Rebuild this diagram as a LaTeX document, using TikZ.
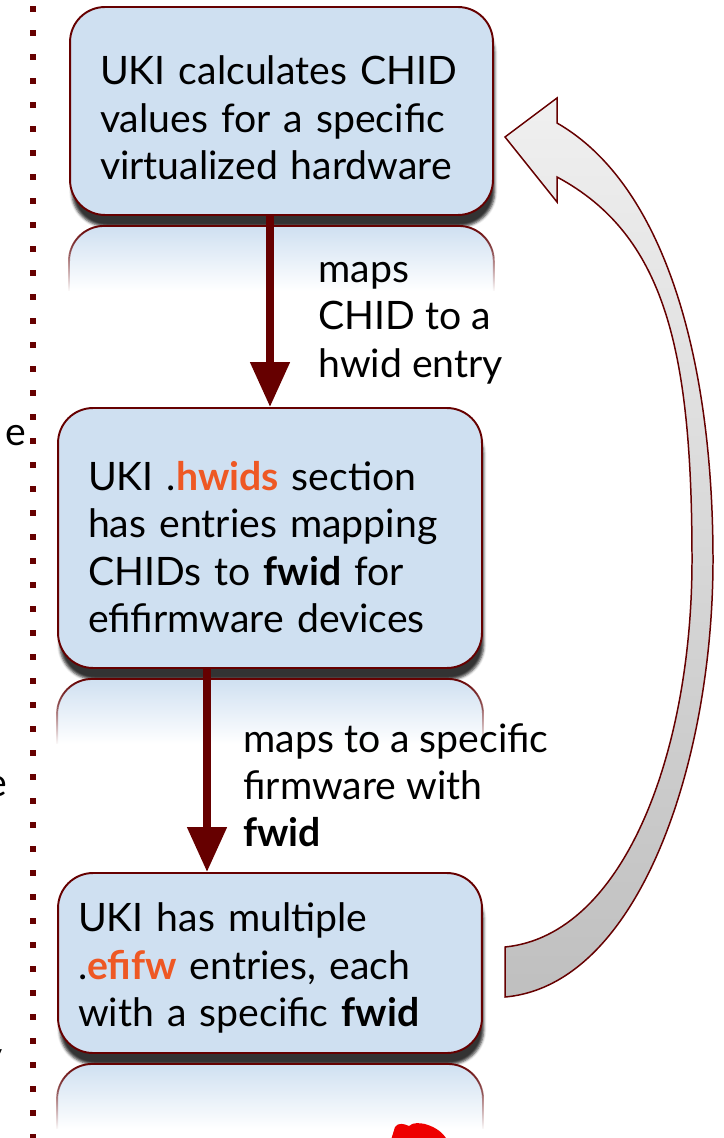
\documentclass[tikz,border=0pt]{standalone}
\usepackage{fontspec}
\setmainfont{Lato}
\usetikzlibrary{arrows.meta, shadows.blur, fadings, positioning}

\definecolor{wine}{RGB}{102,0,0}
\definecolor{boxblue}{RGB}{207,224,241}
\definecolor{hlorange}{RGB}{238,88,36}
\definecolor{rhred}{RGB}{238,0,0}

\tikzfading[name=mirrorfade, top color=transparent!0, bottom color=transparent!100]

\tikzset{
  card/.style={draw=wine, line width=1.1pt, fill=boxblue, rounded corners=0.7cm,
    align=left, inner ysep=0pt, font=\fontsize{22.3}{27.1}\selectfont,
    blur shadow={shadow xshift=1pt, shadow yshift=-6.5pt, shadow blur radius=1.5pt, shadow opacity=80}},
  flow/.style={wine, line width=4.5pt, -{Triangle[length=0.9cm, width=0.76cm]}},
  note/.style={align=left, inner sep=0pt, font=\fontsize{22.3}{26.9}\selectfont},
  cut/.style={inner sep=0pt, font=\fontsize{22.3}{26.9}\selectfont},
}

\newcommand\Up[1]{\rule{0pt}{#1}}

% mirror image under a card
\newcommand\Mirror[1]{%
  \fill[top color=boxblue, bottom color=white]
    ([yshift=-1.5cm]#1.south west) -- ([yshift=-0.9cm]#1.south west)
    arc[start angle=180, end angle=90, radius=0.7cm]
    -- ([xshift=-0.7cm, yshift=-0.2cm]#1.south east)
    arc[start angle=90, end angle=0, radius=0.7cm]
    -- ([yshift=-1.5cm]#1.south east) -- cycle;
  \draw[wine, line width=1.1pt, path fading=mirrorfade]
    ([yshift=-1.5cm]#1.south west) -- ([yshift=-0.9cm]#1.south west)
    arc[start angle=180, end angle=90, radius=0.7cm]
    -- ([xshift=-0.7cm, yshift=-0.2cm]#1.south east)
    arc[start angle=90, end angle=0, radius=0.7cm]
    -- ([yshift=-1.5cm]#1.south east);
}

\begin{document}
\begin{tikzpicture}[x=0.02cm, y=-0.02cm]

\useasboundingbox (0,0) rectangle (723,1138);
\clip (0,0) rectangle (723,1138);

% dotted divider
\draw[wine, line width=0.12cm, dash pattern=on 0.12cm off 0.36cm] (33.3,6.3) -- (33.3,1145);

% words cut off at the left
\node[cut, anchor=base east] (cuta) at (27,445) {e};
\node[cut, anchor=base east] (cutb) at (8,796) {e};
\node[cut, anchor=base east] (cutc) at (3,1069) {y};

% return arrow
\draw[wine, line width=0.85pt, top color=black!6, bottom color=black!25]
  (505,997) -- (505,947)
  .. controls (625,935) and (692,750) .. (692,560)
  .. controls (692,350) and (665,235) .. (557,177)
  -- (557,202) -- (505,137) -- (557,98) -- (557,123)
  .. controls (665,185) and (713,360) .. (713,560)
  .. controls (713,760) and (640,985) .. (505,997) -- cycle;

% cards
\node[card, text width=7.26cm, inner xsep=0.6cm, minimum height=4.16cm] (chid) at (281.5,111)
  {\Up{24.5pt}UKI calculates CHID\\values for a specific\\virtualized hardware};
\node[card, text width=7.28cm, inner xsep=0.6cm, minimum height=5.2cm] (hwids) at (270,538)
  {\Up{27pt}UKI .\textcolor{hlorange}{\textbf{hwids}} section\\has entries mapping\\CHIDs to \textbf{fwid} for\\efifirmware devices};
\node[card, text width=7.68cm, inner xsep=0.4cm, minimum height=3.6cm] (efifw) at (270,963)
  {\Up{22.3pt}UKI has multiple\\.\textcolor{hlorange}{\textbf{efifw}} entries, each\\with a specific \textbf{fwid}};

\Mirror{chid}
\Mirror{hwids}
\Mirror{efifw}

% flow
\draw[flow] ([xshift=-0.23cm]chid.south) -- (hwids.north);
\draw[flow] ([xshift=-1.26cm]hwids.south) -- ([xshift=-1.26cm]efifw.north);

\node[note, anchor=north west] (mapa) at (318,262) {maps\\CHID to a\\hwid entry};
\node[note, anchor=north west] (mapb) at (243,723) {maps to a specific\\firmware with\\\textbf{fwid}};

% logo corner
\fill[rhred] (391,1140) -- (395,1127) .. controls (398,1122) and (405,1124) .. (409,1126)
  .. controls (413,1122) and (420,1123) .. (425,1124)
  .. controls (435,1127) and (443,1132) .. (447,1140) -- cycle;

\end{tikzpicture}
\end{document}
